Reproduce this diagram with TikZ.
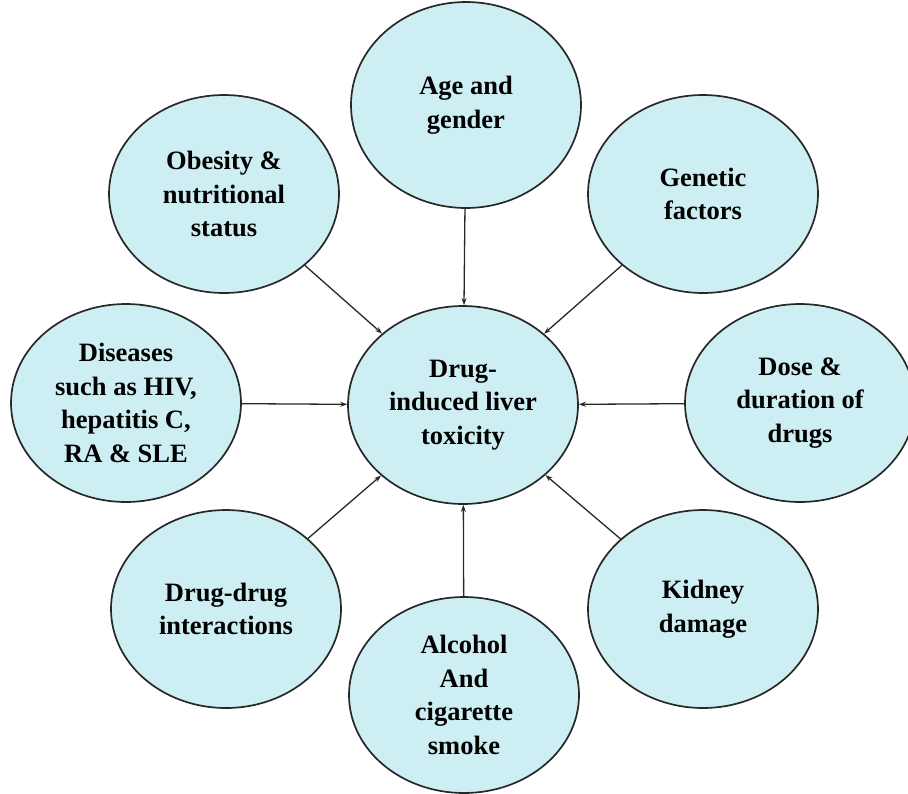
\documentclass[tikz,border=0pt]{standalone}
\usepackage{fontspec}
\setmainfont{Liberation Serif}
\usetikzlibrary{shapes.geometric,arrows.meta}
\definecolor{bubblefill}{RGB}{205,239,243}
\definecolor{bubbleedge}{RGB}{40,40,40}
\definecolor{linkcol}{RGB}{40,40,40}
\tikzset{
  bubble/.style={ellipse, draw=bubbleedge, line width=1.7pt, fill=bubblefill,
    minimum width=230pt, minimum height=198pt, inner sep=0pt, align=center,
    font=\fontsize{26.5}{33.5}\selectfont\bfseries},
  link/.style={draw=linkcol, line width=1.3pt, -{Stealth[length=7pt,width=5pt]}}
}
\begin{document}
\begin{tikzpicture}[x=1pt,y=-1pt]
\useasboundingbox (0,0) rectangle (908,793);
\node[bubble] (liver) at (463,405) {Drug-\\induced liver\\toxicity};
\node[bubble, minimum height=206pt] (age) at (466,105) {Age and\\gender};
\node[bubble] (obesity) at (224,194) {Obesity \&\\nutritional\\status};
\node[bubble] (genetic) at (703,194) {Genetic\\factors};
\node[bubble] (disease) at (126,403) {Diseases\\such as HIV,\\hepatitis C,\\RA \& SLE};
\node[bubble] (dose) at (800,403) {Dose \&\\duration of\\drugs};
\node[bubble] (ddi) at (226,609) {Drug-drug\\interactions};
\node[bubble] (kidney) at (703,609) {Kidney\\damage};
\node[bubble, minimum height=196pt] (alcohol) at (464,695) {Alcohol\\And\\cigarette\\smoke};
\draw[link] (age) -- (liver);
\draw[link] (obesity) -- (liver);
\draw[link] (genetic) -- (liver);
\draw[link] (disease) -- (liver);
\draw[link] (dose) -- (liver);
\draw[link] (ddi) -- (liver);
\draw[link] (kidney) -- (liver);
\draw[link] (alcohol) -- (liver);
\end{tikzpicture}
\end{document}
